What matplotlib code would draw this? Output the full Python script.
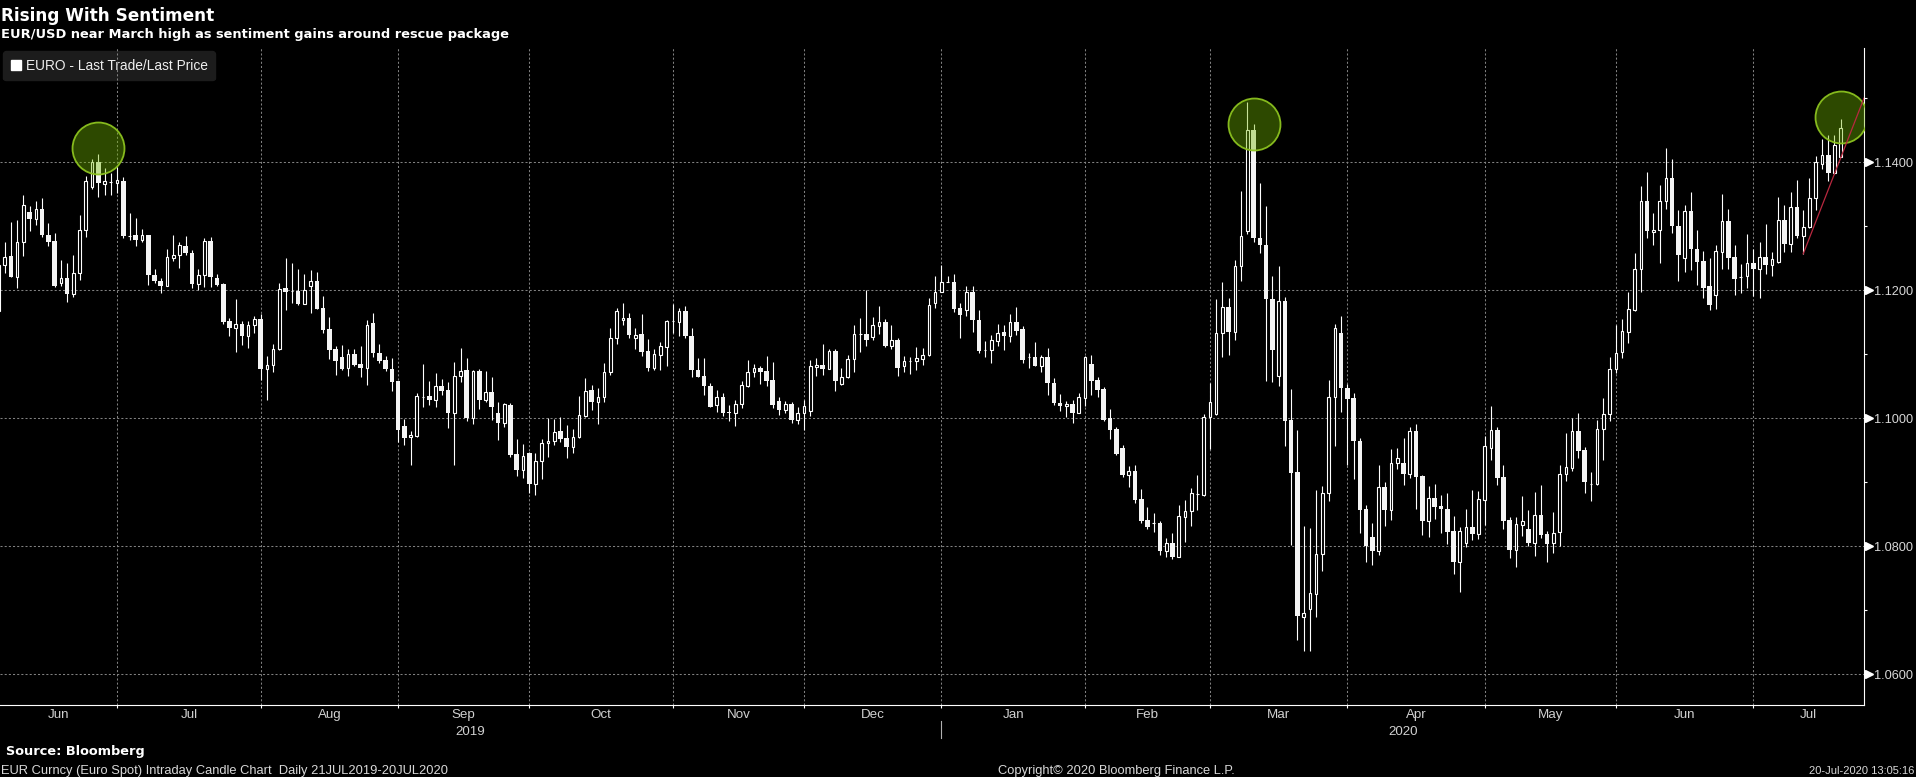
import matplotlib
matplotlib.use('Agg')
import matplotlib.pyplot as plt
import numpy as np
import pandas as pd
from matplotlib.patches import Patch
from matplotlib.transforms import blended_transform_factory

# --------------- data: EUR/USD daily candles --------------- #
dates = pd.bdate_range('2019-06-03', '2020-07-20')

opens = [
    1.1168, 1.1240, 1.1253, 1.1221, 1.1276, 1.1322, 1.1311, 1.1327, 1.1287, 1.1277,
    1.1212, 1.1219, 1.1194, 1.1227, 1.1294, 1.1361, 1.1400, 1.1366, 1.1369, 1.1368,
    1.1370, 1.1285, 1.1286, 1.1278, 1.1286, 1.1224, 1.1215, 1.1207, 1.1251, 1.1255,
    1.1269, 1.1259, 1.1210, 1.1224, 1.1277, 1.1219, 1.1210, 1.1152, 1.1141, 1.1147,
    1.1128, 1.1146, 1.1155, 1.1077, 1.1084, 1.1108, 1.1203, 1.1199, 1.1199, 1.1179,
    1.1207, 1.1215, 1.1172, 1.1140, 1.1109, 1.1096, 1.1078, 1.1101, 1.1085, 1.1079,
    1.1149, 1.1102, 1.1091, 1.1077, 1.1058, 1.0988, 1.0970, 1.0972, 1.1034, 1.1035,
    1.1028, 1.1050, 1.1044, 1.1009, 1.1066, 1.1076, 1.1001, 1.1074, 1.1029, 1.1041,
    1.1008, 1.0993, 1.1021, 1.0944, 1.0919, 1.0945, 1.0897, 1.0933, 1.0961, 1.0965,
    1.0980, 1.0969, 1.0955, 1.0970, 1.1004, 1.1044, 1.1026, 1.1033, 1.1072, 1.1125,
    1.1153, 1.1156, 1.1125, 1.1131, 1.1105, 1.1079, 1.1099, 1.1112, 1.1152, 1.1151,
    1.1167, 1.1129, 1.1076, 1.1066, 1.1051, 1.1021, 1.1034, 1.1009, 1.1008, 1.1022,
    1.1051, 1.1072, 1.1079, 1.1074, 1.1060, 1.1027, 1.1013, 1.1022, 1.0997, 1.1009,
    1.1012, 1.1080, 1.1084, 1.1077, 1.1105, 1.1054, 1.1064, 1.1092, 1.1131, 1.1131,
    1.1127, 1.1144, 1.1151, 1.1113, 1.1123, 1.1081, 1.1090, 1.1089, 1.1092, 1.1099,
    1.1180, 1.1198, 1.1213, 1.1213, 1.1172, 1.1169, 1.1197, 1.1153, 1.1106, 1.1106,
    1.1120, 1.1135, 1.1128, 1.1150, 1.1139, 1.1095, 1.1096, 1.1082, 1.1095, 1.1055,
    1.1024, 1.1019, 1.1023, 1.1009, 1.1032, 1.1085, 1.1060, 1.1045, 1.1000, 1.0984,
    1.0953, 1.0911, 1.0917, 1.0874, 1.0841, 1.0836, 1.0837, 1.0792, 1.0805, 1.0784,
    1.0846, 1.0855, 1.0882, 1.0880, 1.1002, 1.1006, 1.1134, 1.1174, 1.1135, 1.1238,
    1.1293, 1.1451, 1.1282, 1.1271, 1.1187, 1.1066, 1.1183, 1.0997, 1.0916, 1.0690,
    1.0702, 1.0725, 1.0788, 1.0883, 1.1033, 1.1133, 1.1048, 1.1031, 1.0965, 1.0858,
    1.0814, 1.0793, 1.0892, 1.0857, 1.0930, 1.0930, 1.0913, 1.0980, 1.0910, 1.0840,
    1.0875, 1.0863, 1.0858, 1.0824, 1.0776, 1.0805, 1.0830, 1.0819, 1.0872, 1.0954,
    1.0982, 1.0908, 1.0841, 1.0794, 1.0834, 1.0827, 1.0805, 1.0849, 1.0819, 1.0805,
    1.0823, 1.0913, 1.0922, 1.0980, 1.0951, 1.0898, 1.0897, 1.0983, 1.1006, 1.1077,
    1.1104, 1.1135, 1.1169, 1.1233, 1.1339, 1.1291, 1.1294, 1.1340, 1.1375, 1.1301,
    1.1250, 1.1324, 1.1264, 1.1245, 1.1206, 1.1193, 1.1260, 1.1309, 1.1252, 1.1220,
    1.1223, 1.1242, 1.1234, 1.1252, 1.1239, 1.1244, 1.1310, 1.1273, 1.1330, 1.1285,
    1.1299, 1.1344, 1.1398, 1.1411, 1.1383, 1.1409,
]
highs = [
    1.1243, 1.1276, 1.1307, 1.1310, 1.1349, 1.1332, 1.1339, 1.1344, 1.1305, 1.1289,
    1.1247, 1.1243, 1.1255, 1.1318, 1.1379, 1.1405, 1.1413, 1.1391, 1.1383, 1.1393,
    1.1377, 1.1321, 1.1313, 1.1295, 1.1286, 1.1234, 1.1219, 1.1264, 1.1286, 1.1276,
    1.1285, 1.1263, 1.1233, 1.1282, 1.1283, 1.1226, 1.1211, 1.1157, 1.1187, 1.1152,
    1.1152, 1.1160, 1.1163, 1.1097, 1.1116, 1.1212, 1.1250, 1.1242, 1.1233, 1.1225,
    1.1232, 1.1229, 1.1191, 1.1158, 1.1113, 1.1115, 1.1108, 1.1108, 1.1113, 1.1154,
    1.1164, 1.1116, 1.1098, 1.1094, 1.1059, 1.0999, 1.0980, 1.1039, 1.1085, 1.1059,
    1.1070, 1.1061, 1.1057, 1.1088, 1.1110, 1.1094, 1.1076, 1.1077, 1.1074, 1.1065,
    1.1025, 1.1024, 1.1024, 1.0967, 1.0960, 1.0948, 1.0945, 1.0967, 1.1001, 1.0999,
    1.1002, 1.0990, 1.0984, 1.1035, 1.1063, 1.1052, 1.1047, 1.1086, 1.1141, 1.1172,
    1.1180, 1.1164, 1.1141, 1.1163, 1.1124, 1.1109, 1.1119, 1.1154, 1.1178, 1.1172,
    1.1176, 1.1141, 1.1094, 1.1094, 1.1055, 1.1044, 1.1039, 1.1021, 1.1029, 1.1058,
    1.1091, 1.1085, 1.1082, 1.1098, 1.1088, 1.1033, 1.1027, 1.1025, 1.1018, 1.1029,
    1.1091, 1.1094, 1.1116, 1.1109, 1.1109, 1.1078, 1.1099, 1.1146, 1.1156, 1.1200,
    1.1158, 1.1176, 1.1155, 1.1145, 1.1125, 1.1098, 1.1095, 1.1111, 1.1110, 1.1188,
    1.1223, 1.1240, 1.1222, 1.1226, 1.1180, 1.1206, 1.1207, 1.1169, 1.1120, 1.1130,
    1.1147, 1.1146, 1.1163, 1.1174, 1.1144, 1.1102, 1.1119, 1.1099, 1.1110, 1.1063,
    1.1038, 1.1027, 1.1029, 1.1040, 1.1097, 1.1099, 1.1065, 1.1049, 1.1015, 1.0987,
    1.0959, 1.0925, 1.0927, 1.0890, 1.0862, 1.0852, 1.0839, 1.0813, 1.0821, 1.0865,
    1.0873, 1.0891, 1.0911, 1.1006, 1.1055, 1.1187, 1.1213, 1.1188, 1.1247, 1.1355,
    1.1495, 1.1460, 1.1367, 1.1332, 1.1223, 1.1238, 1.1190, 1.1046, 1.0982, 1.0832,
    1.0828, 1.0888, 1.0894, 1.1060, 1.1147, 1.1160, 1.1053, 1.1039, 1.0969, 1.0865,
    1.0836, 1.0927, 1.0901, 1.0952, 1.0953, 1.0969, 1.0987, 1.0991, 1.0911, 1.0894,
    1.0897, 1.0880, 1.0884, 1.0847, 1.0830, 1.0859, 1.0888, 1.0886, 1.0972, 1.1019,
    1.0986, 1.0927, 1.0846, 1.0845, 1.0878, 1.0857, 1.0885, 1.0896, 1.0824, 1.0853,
    1.0927, 1.0977, 1.1000, 1.1008, 1.0955, 1.0916, 1.0997, 1.1031, 1.1096, 1.1146,
    1.1155, 1.1197, 1.1258, 1.1363, 1.1385, 1.1320, 1.1365, 1.1422, 1.1405, 1.1326,
    1.1333, 1.1353, 1.1294, 1.1261, 1.1250, 1.1271, 1.1351, 1.1327, 1.1270, 1.1241,
    1.1288, 1.1265, 1.1276, 1.1303, 1.1260, 1.1345, 1.1333, 1.1353, 1.1372, 1.1326,
    1.1375, 1.1410, 1.1436, 1.1442, 1.1443, 1.1468,
]
lows = [
    1.1165, 1.1227, 1.1221, 1.1203, 1.1253, 1.1292, 1.1302, 1.1283, 1.1269, 1.1205,
    1.1206, 1.1182, 1.1189, 1.1216, 1.1284, 1.1359, 1.1345, 1.1349, 1.1349, 1.1352,
    1.1281, 1.1278, 1.1269, 1.1275, 1.1209, 1.1211, 1.1195, 1.1206, 1.1246, 1.1235,
    1.1255, 1.1203, 1.1201, 1.1205, 1.1205, 1.1207, 1.1148, 1.1128, 1.1104, 1.1114,
    1.1110, 1.1134, 1.1060, 1.1029, 1.1072, 1.1107, 1.1169, 1.1180, 1.1177, 1.1179,
    1.1164, 1.1171, 1.1133, 1.1093, 1.1067, 1.1075, 1.1066, 1.1082, 1.1065, 1.1052,
    1.1095, 1.1087, 1.1074, 1.1043, 1.0963, 1.0958, 1.0927, 1.0970, 1.1018, 1.1021,
    1.1017, 1.1037, 1.0985, 1.0927, 1.1057, 1.0995, 1.0991, 1.1015, 1.1025, 1.0997,
    1.0966, 1.0986, 1.0939, 1.0910, 1.0906, 1.0883, 1.0880, 1.0905, 1.0940, 1.0958,
    1.0963, 1.0938, 1.0946, 1.0969, 1.1002, 1.1013, 1.0991, 1.1025, 1.1067, 1.1116,
    1.1146, 1.1125, 1.1108, 1.1097, 1.1074, 1.1076, 1.1075, 1.1081, 1.1133, 1.1129,
    1.1126, 1.1065, 1.1064, 1.1037, 1.1018, 1.1010, 1.1004, 1.0996, 1.0988, 1.1016,
    1.1049, 1.1064, 1.1054, 1.1051, 1.1016, 1.1005, 1.1008, 1.0993, 1.0991, 1.0982,
    1.1004, 1.1066, 1.1068, 1.1077, 1.1042, 1.1052, 1.1063, 1.1072, 1.1103, 1.1113,
    1.1122, 1.1131, 1.1111, 1.1109, 1.1066, 1.1072, 1.1069, 1.1075, 1.1084, 1.1098,
    1.1172, 1.1197, 1.1213, 1.1166, 1.1126, 1.1160, 1.1135, 1.1102, 1.1095, 1.1086,
    1.1113, 1.1106, 1.1119, 1.1130, 1.1087, 1.1078, 1.1082, 1.1072, 1.1037, 1.1021,
    1.1011, 1.1002, 1.0993, 1.1009, 1.1019, 1.1037, 1.1034, 1.0995, 1.0967, 1.0943,
    1.0908, 1.0893, 1.0868, 1.0836, 1.0827, 1.0823, 1.0787, 1.0783, 1.0780, 1.0783,
    1.0807, 1.0831, 1.0856, 1.0878, 1.0952, 1.1005, 1.1096, 1.1099, 1.1122, 1.1214,
    1.1288, 1.1276, 1.1259, 1.1058, 1.1056, 1.1050, 1.0956, 1.0802, 1.0654, 1.0637,
    1.0636, 1.0690, 1.0762, 1.0871, 1.0957, 1.1010, 1.0927, 1.0905, 1.0821, 1.0775,
    1.0770, 1.0786, 1.0831, 1.0841, 1.0921, 1.0895, 1.0906, 1.0859, 1.0818, 1.0814,
    1.0842, 1.0820, 1.0804, 1.0757, 1.0728, 1.0799, 1.0810, 1.0812, 1.0833, 1.0935,
    1.0896, 1.0827, 1.0782, 1.0767, 1.0816, 1.0801, 1.0785, 1.0813, 1.0776, 1.0790,
    1.0801, 1.0902, 1.0918, 1.0938, 1.0884, 1.0871, 1.0895, 1.0935, 1.0995, 1.1070,
    1.1094, 1.1117, 1.1167, 1.1197, 1.1281, 1.1270, 1.1242, 1.1327, 1.1290, 1.1214,
    1.1228, 1.1231, 1.1209, 1.1188, 1.1169, 1.1170, 1.1234, 1.1234, 1.1193, 1.1196,
    1.1203, 1.1191, 1.1188, 1.1225, 1.1223, 1.1242, 1.1260, 1.1260, 1.1281, 1.1257,
    1.1298, 1.1326, 1.1390, 1.1371, 1.1382, 1.1408,
]
closes = [
    1.1240, 1.1252, 1.1221, 1.1276, 1.1334, 1.1311, 1.1327, 1.1286, 1.1276, 1.1207,
    1.1219, 1.1194, 1.1227, 1.1294, 1.1370, 1.1400, 1.1367, 1.1370, 1.1369, 1.1373,
    1.1285, 1.1285, 1.1278, 1.1286, 1.1224, 1.1214, 1.1207, 1.1252, 1.1255, 1.1271,
    1.1258, 1.1210, 1.1224, 1.1277, 1.1221, 1.1209, 1.1151, 1.1141, 1.1147, 1.1128,
    1.1146, 1.1155, 1.1077, 1.1084, 1.1108, 1.1202, 1.1198, 1.1199, 1.1179, 1.1201,
    1.1214, 1.1171, 1.1138, 1.1107, 1.1090, 1.1077, 1.1101, 1.1084, 1.1079, 1.1145,
    1.1102, 1.1090, 1.1077, 1.1057, 1.0982, 1.0969, 1.0974, 1.1035, 1.1034, 1.1029,
    1.1050, 1.1043, 1.1009, 1.1066, 1.1074, 1.1001, 1.1074, 1.1029, 1.1041, 1.1017,
    1.0993, 1.1022, 1.0943, 1.0919, 1.0941, 1.0897, 1.0933, 1.0961, 1.0965, 1.0979,
    1.0968, 1.0955, 1.0970, 1.1005, 1.1042, 1.1026, 1.1033, 1.1072, 1.1125, 1.1168,
    1.1156, 1.1130, 1.1130, 1.1104, 1.1079, 1.1100, 1.1113, 1.1152, 1.1152, 1.1167,
    1.1128, 1.1075, 1.1065, 1.1050, 1.1018, 1.1033, 1.1009, 1.1008, 1.1022, 1.1052,
    1.1072, 1.1079, 1.1073, 1.1059, 1.1021, 1.1013, 1.1022, 1.0997, 1.1009, 1.1019,
    1.1081, 1.1084, 1.1077, 1.1105, 1.1059, 1.1065, 1.1093, 1.1131, 1.1131, 1.1122,
    1.1145, 1.1151, 1.1113, 1.1123, 1.1079, 1.1090, 1.1090, 1.1094, 1.1099, 1.1177,
    1.1198, 1.1213, 1.1213, 1.1171, 1.1161, 1.1197, 1.1153, 1.1105, 1.1106, 1.1122,
    1.1134, 1.1128, 1.1150, 1.1137, 1.1091, 1.1095, 1.1082, 1.1095, 1.1055, 1.1024,
    1.1019, 1.1023, 1.1009, 1.1034, 1.1095, 1.1059, 1.1044, 1.0997, 1.0981, 1.0944,
    1.0911, 1.0917, 1.0873, 1.0840, 1.0830, 1.0836, 1.0792, 1.0805, 1.0784, 1.0848,
    1.0855, 1.0883, 1.0882, 1.1002, 1.1026, 1.1134, 1.1174, 1.1135, 1.1238, 1.1285,
    1.1451, 1.1281, 1.1270, 1.1186, 1.1107, 1.1183, 1.0996, 1.0915, 1.0691, 1.0695,
    1.0727, 1.0788, 1.0883, 1.1033, 1.1141, 1.1048, 1.1030, 1.0964, 1.0857, 1.0801,
    1.0793, 1.0892, 1.0857, 1.0930, 1.0938, 1.0913, 1.0980, 1.0909, 1.0840, 1.0875,
    1.0862, 1.0858, 1.0823, 1.0776, 1.0824, 1.0830, 1.0819, 1.0874, 1.0956, 1.0982,
    1.0907, 1.0840, 1.0794, 1.0835, 1.0840, 1.0805, 1.0849, 1.0818, 1.0804, 1.0820,
    1.0913, 1.0924, 1.0980, 1.0949, 1.0900, 1.0898, 1.0983, 1.1006, 1.1077, 1.1102,
    1.1136, 1.1171, 1.1233, 1.1339, 1.1292, 1.1294, 1.1340, 1.1375, 1.1300, 1.1255,
    1.1324, 1.1264, 1.1244, 1.1204, 1.1177, 1.1261, 1.1309, 1.1250, 1.1218, 1.1220,
    1.1242, 1.1234, 1.1252, 1.1239, 1.1249, 1.1310, 1.1273, 1.1330, 1.1285, 1.1299,
    1.1344, 1.1400, 1.1411, 1.1383, 1.1427, 1.1454,
]

price_ticks = [1.06, 1.08, 1.10, 1.12, 1.14]
minor_ticks = [1.07, 1.09, 1.11, 1.13, 1.15]

# highlight circles (date, price level) and the trend line anchors
circle_dates = ['2019-06-25', '2020-03-10', '2020-07-20']
circle_levels = [1.1423, 1.1460, 1.1471]
trend_dates = ['2020-07-10', '2020-07-17']

title = 'Rising With Sentiment'
subtitle = 'EUR/USD near March high as sentiment gains around rescue package'
legend_label = 'EURO - Last Trade/Last Price'

# --------------- figure --------------- #
W, H = 1916, 777
fig = plt.figure(figsize=(W / 100, H / 100), dpi=100, facecolor='black')
ax = fig.add_axes([0, 72 / H, 1864 / W, 657 / H])
ax.set_facecolor('black')

o = np.array(opens)
h = np.array(highs)
l = np.array(lows)
c = np.array(closes)
x = np.arange(len(dates))
up = c >= o

ax.set_xlim(0.26, 298.73)
ax.set_ylim(1.0552, 1.15786)

# candles
ax.vlines(x, l, h, color='white', lw=0.8, zorder=3)
body_lo = np.minimum(o, c)
body_h = np.abs(c - o)
ax.bar(x[~up], np.maximum(body_h[~up], 0.00012), bottom=body_lo[~up], width=0.74,
       color='#f4f4f4', edgecolor='none', zorder=4)
ax.bar(x[up], body_h[up], bottom=body_lo[up], width=0.42,
       facecolor='black', edgecolor='white', linewidth=0.8, zorder=4)

# month grid
month_key = dates.to_period('M')
last_idx = pd.Series(x, index=dates).groupby(month_key).max()
month_ends = list(last_idx.values[:-1])
for p in price_ticks:
    ax.axhline(p, color='#808080', lw=0.75, ls=(0, (2, 2)), zorder=1.5)
for m in month_ends:
    ax.axvline(m, color='#808080', lw=0.75, ls=(0, (2, 2)), zorder=1.5)

# highlight circles
cx = [dates.get_loc(pd.Timestamp(d)) for d in circle_dates]
ax.scatter(cx, circle_levels, s=1400, facecolor=(0.45, 0.72, 0.0, 0.4),
           edgecolor=(0.55, 0.76, 0.12, 0.95), linewidth=1.3, zorder=5)

# trend line through the two lows, extended to the right edge
t0, t1 = [dates.get_loc(pd.Timestamp(d)) for d in trend_dates]
slope = (l[t1] - l[t0]) / (t1 - t0)
x_end = ax.get_xlim()[1]
ax.plot([t0, x_end], [l[t0], l[t0] + slope * (x_end - t0)], color='#b8283f', lw=0.9, zorder=6)

# axes styling
for s in ['left', 'top']:
    ax.spines[s].set_visible(False)
for s in ['right', 'bottom']:
    ax.spines[s].set_color('white')
    ax.spines[s].set_linewidth(0.8)

ax.yaxis.tick_right()
ax.set_yticks(price_ticks)
ax.set_yticklabels([f'{p:.4f}' for p in price_ticks])
ax.set_yticks(minor_ticks, minor=True)
ax.tick_params(axis='y', which='major', length=0, pad=7.5, labelsize=9.2,
               labelcolor='#d8d8d8')
ax.tick_params(axis='y', which='minor', length=2.5, width=0.8, color='white')
for lab in ax.get_yticklabels():
    lab.set_family('Liberation Sans')
ybt = blended_transform_factory(ax.transAxes, ax.transData)
ax.plot([1.0025] * len(price_ticks), price_ticks, ls='none', marker='>', ms=5.5,
        color='white', transform=ybt, clip_on=False, zorder=7)

ax.set_xticks(month_ends)
ax.set_xticklabels([])
ax.tick_params(axis='x', length=2.5, width=0.8, color='white')

# month / year labels
xbt = blended_transform_factory(ax.transData, ax.transAxes)
bounds = [ax.get_xlim()[0]] + month_ends + [ax.get_xlim()[1]]
for k, per in enumerate(last_idx.index):
    mid = (bounds[k] + bounds[k + 1]) / 2
    ax.text(mid, -0.0157, per.strftime('%b'), transform=xbt, ha='center', va='center',
            fontsize=9.6, color='#d0d0d0', family='Liberation Sans', clip_on=False)
year_end = last_idx[last_idx.index.year == 2019].max()
for yr, (a, b) in [('2019', (bounds[0], year_end)), ('2020', (year_end, bounds[-1]))]:
    ax.text((a + b) / 2, -0.0406, yr, transform=xbt, ha='center', va='center',
            fontsize=9.6, color='#d0d0d0', family='Liberation Sans', clip_on=False)
ax.plot([year_end, year_end], [-0.025, -0.05], transform=xbt, color='#b0b0b0',
        lw=0.8, clip_on=False)

# legend
leg = ax.legend(handles=[Patch(facecolor='white', edgecolor='white')], labels=[legend_label],
                loc='upper left', bbox_to_anchor=(3 / 1864, 0.995), borderaxespad=0,
                borderpad=0.55, handlelength=0.75, handleheight=0.75, handletextpad=0.35,
                fancybox=True, framealpha=1, facecolor='#1c1c1c', edgecolor='#1c1c1c',
                prop={'family': 'Liberation Sans', 'size': 9.9}, labelcolor='#eeeeee')
leg.set_zorder(1)

# titles and footer
def fy(y):
    return 1 - y / H

fig.text(1 / W, fy(20.7), title, ha='left', va='baseline', fontsize=12.2,
         fontweight='bold', family='DejaVu Sans', color='white')
fig.text(1 / W, fy(37.6), subtitle, ha='left', va='baseline', fontsize=9.4,
         fontweight='bold', family='DejaVu Sans', color='white')
fig.text(6 / W, fy(755), 'Source: Bloomberg', ha='left', va='baseline', fontsize=9.3,
         fontweight='bold', family='DejaVu Sans', color='white')
fig.text(1 / W, fy(774), 'EUR Curncy (Euro Spot) Intraday Candle Chart  Daily 21JUL2019-20JUL2020',
         ha='left', va='baseline', fontsize=9.25, family='Liberation Sans', color='#d8d8d8')
fig.text(1116 / W, fy(774), 'Copyright\u00a9 2020 Bloomberg Finance L.P.', ha='center',
         va='baseline', fontsize=9.3, family='Liberation Sans', color='#d8d8d8')
fig.text(1914 / W, fy(774), '20-Jul-2020 13:05:16', ha='right', va='baseline',
         fontsize=8.0, family='Liberation Sans', color='#d8d8d8')

fig.savefig('out.png', dpi=100, facecolor='black')
